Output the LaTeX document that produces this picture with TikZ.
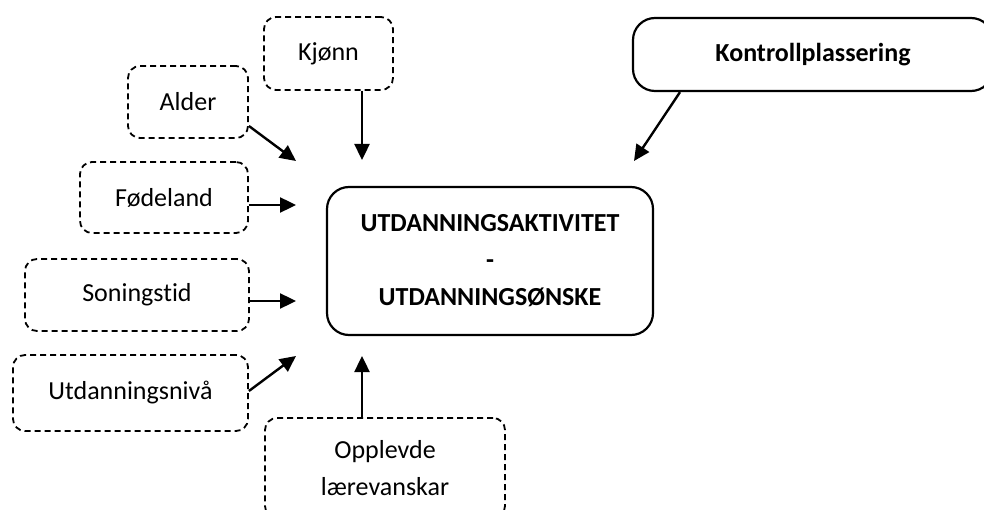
\documentclass[tikz,border=0pt]{standalone}
\usepackage{fontspec}
\setmainfont{Carlito}[Ligatures=NoCommon]
\usetikzlibrary{arrows.meta,calc}
\begin{document}
\begin{tikzpicture}[x=1pt,y=-1pt,
  dbox/.style={draw, dash pattern=on 6pt off 4pt, line width=1.8pt, rounded corners=12pt,
    inner sep=0pt, font=\fontsize{26}{37}\selectfont, align=center},
  sbox/.style={draw, line width=2.2pt, rounded corners=22pt, inner sep=0pt,
    font=\fontsize{26}{37}\selectfont\bfseries, align=center},
  arr/.style={line width=2.4pt, -{Triangle[length=16pt,width=15pt]}}]
\useasboundingbox (0,0) rectangle (984,510);
\clip (0,0) rectangle (984,510);

\node[dbox, minimum width=129pt, minimum height=73pt] (kjonn) at (328.5,53.5) {Kjønn};
\node[dbox, minimum width=120pt, minimum height=72pt] (alder) at (188,102) {Alder};
\node[dbox, minimum width=168pt, minimum height=71pt] (fode) at (164,197.5) {Fødeland};
\node[dbox, minimum width=224pt, minimum height=72pt] (soning) at (137,295) {Soningstid};
\node[dbox, minimum width=235pt, minimum height=76pt] (utdniva) at (130.5,393) {Utdanningsnivå};
\node[dbox, minimum width=240pt, minimum height=100pt] (opp) at (385,468) {Opplevde\\lærevanskar};

\node[sbox, minimum width=326pt, minimum height=148pt] (main) at (490,261)
  {UTDANNINGSAKTIVITET\\-\\UTDANNINGSØNSKE};
\node[sbox, minimum width=360pt, minimum height=73pt] (ctrl) at (813,54.5) {Kontrollplassering};

\coordinate (tkjonn) at (362,160);
\coordinate (talder) at (296,161);
\coordinate (tfode) at (296,205);
\coordinate (tsoning) at (296,301);
\coordinate (tutd) at (296,356);
\coordinate (topp) at (362,356);
\coordinate (tctrl) at (634,161);

\draw[arr] ($(kjonn.south)+(33.5,0)$) -- (tkjonn);
\draw[arr] ($(alder.east)+(0,24)$) -- (talder);
\draw[arr] ($(fode.east)+(0,7.5)$) -- (tfode);
\draw[arr] ($(soning.east)+(0,6)$) -- (tsoning);
\draw[arr] ($(utdniva.east)+(0,-2)$) -- (tutd);
\draw[arr] ($(opp.north)+(-23,0)$) -- (topp);
\draw[arr] ($(ctrl.south)+(-133,0)$) -- (tctrl);
\end{tikzpicture}
\end{document}
